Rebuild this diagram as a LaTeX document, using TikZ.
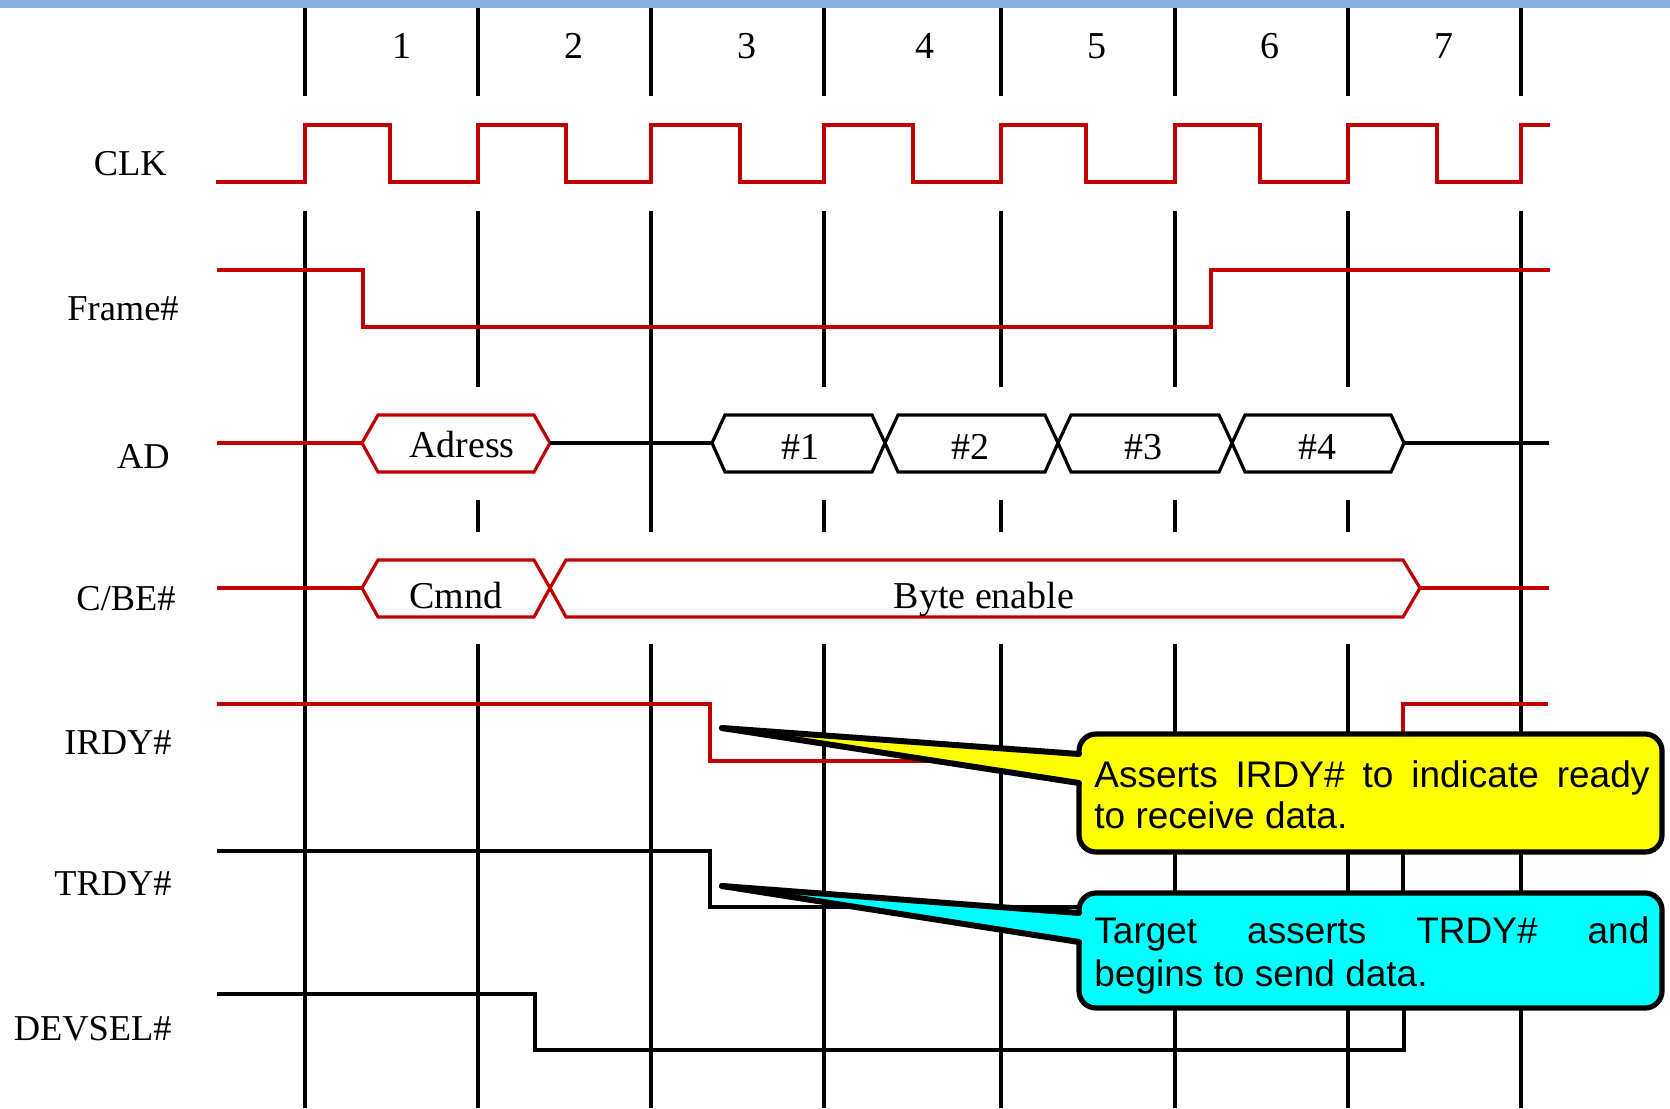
\documentclass[tikz,border=0pt]{standalone}
\usepackage{fontspec}
\setmainfont{Liberation Serif}
\newfontfamily\calfont{Liberation Sans}
\definecolor{sigred}{HTML}{C00000}
\definecolor{barblue}{HTML}{87B1DF}
\definecolor{calyellow}{HTML}{FFFF00}
\definecolor{calcyan}{HTML}{00FFFF}
\begin{document}
\begin{tikzpicture}[x=0.5pt,y=-0.5pt,
  gridline/.style={line width=1.6pt,black},
  gridthick/.style={line width=2.3pt,black},
  wave/.style={line width=1.6pt,line join=miter},
  redwave/.style={wave,draw=sigred},
  blkwave/.style={wave,draw=black},
  lbl/.style={font=\fontsize{19}{22}\selectfont,inner sep=0pt},
  sidelbl/.style={font=\fontsize{18.2}{22}\selectfont,inner sep=0pt,anchor=base east},
  calbox/.style={draw=black,line width=2.6pt,rounded corners=8.5pt,inner sep=0pt,minimum width=291.5pt},
  caltext/.style={font=\calfont\fontsize{18.5}{22}\selectfont,inner sep=0pt,anchor=base west},
  pointer/.style={line width=3pt,line cap=round,black}]
\useasboundingbox (0,0) rectangle (1670,1108);
\fill[barblue] (0,0) rectangle (1670,8);

% header dividers
\draw[gridthick] (305,8) -- (305,96);
\foreach \x in {478,651,824,1001,1175,1348} \draw[gridline] (\x,8) -- (\x,96);
\draw[gridthick] (1521,8) -- (1521,96);
\foreach \n/\x in {1/402,2/574,3/747,4/925,5/1097,6/1270,7/1444}
  \node[lbl,anchor=base] (num\n) at (\x,58) {\n};

% grid lines
\draw[gridline] (305,211) -- (305,1108);
\draw[gridline] (1521,211) -- (1521,1108);
\draw[gridline] (651,211) -- (651,532);
\draw[gridline] (651,644) -- (651,1108);
\foreach \x in {478,824,1001,1175,1348} {
  \draw[gridline] (\x,211) -- (\x,387);
  \draw[gridline] (\x,500) -- (\x,532);
  \draw[gridline] (\x,644) -- (\x,1108);
}

% labels
\node[sidelbl] (lclk) at (167,175) {CLK};
\node[sidelbl] (lframe) at (179,320) {Frame\#};
\node[sidelbl] (lad) at (170,468) {AD};
\node[sidelbl] (lcbe) at (176,610) {C/BE\#};
\node[sidelbl] (lirdy) at (172,754) {IRDY\#};
\node[sidelbl] (ltrdy) at (172,895) {TRDY\#};
\node[sidelbl] (ldevsel) at (172,1040) {DEVSEL\#};

% CLK
\draw[redwave] (216,182) -- (305,182) -- (305,125) -- (390,125) -- (390,182)
  -- (478,182) -- (478,125) -- (566,125) -- (566,182)
  -- (651,182) -- (651,125) -- (740,125) -- (740,182)
  -- (824,182) -- (824,125) -- (913,125) -- (913,182)
  -- (1001,182) -- (1001,125) -- (1086,125) -- (1086,182)
  -- (1175,182) -- (1175,125) -- (1260,125) -- (1260,182)
  -- (1348,182) -- (1348,125) -- (1437,125) -- (1437,182)
  -- (1521,182) -- (1521,125) -- (1550,125);

% Frame#
\draw[redwave] (217,270) -- (363,270) -- (363,327) -- (1211,327) -- (1211,270) -- (1550,270);

% AD
\draw[redwave] (217,443) -- (362,443);
\draw[redwave] (362,443) -- (378,415) -- (534,415) -- (550,443) -- (534,472) -- (378,472) -- cycle;
\draw[blkwave] (550,443) -- (712,443);
\foreach \a/\b in {712/885,885/1058,1058/1232,1232/1404}
  \draw[blkwave] (\a,443) -- (\a+13,415) -- (\b-13,415) -- (\b,443) -- (\b-13,472) -- (\a+13,472) -- cycle;
\draw[blkwave] (1404,443) -- (1549,443);
\node[lbl,anchor=base] (tadr) at (462,457) {Adress};
\node[lbl,anchor=base] (td1) at (800,459) {\#1};
\node[lbl,anchor=base] (td2) at (970,459) {\#2};
\node[lbl,anchor=base] (td3) at (1143,459) {\#3};
\node[lbl,anchor=base] (td4) at (1317,459) {\#4};

% C/BE#
\draw[redwave] (217,588) -- (362,588);
\draw[redwave] (362,588) -- (378,560) -- (534,560) -- (550,588) -- (534,617) -- (378,617) -- cycle;
\draw[redwave] (550,588) -- (566,560) -- (1403,560) -- (1420,588) -- (1403,617) -- (566,617) -- cycle;
\draw[redwave] (1420,588) -- (1549,588);
\node[lbl,anchor=base] (tcmnd) at (456,608) {Cmnd};
\node[lbl,anchor=base] (tbyte) at (984,608) {Byte enable};

% IRDY#, TRDY#, DEVSEL#
\draw[redwave] (217,704) -- (710,704) -- (710,761) -- (1403,761) -- (1403,704) -- (1548,704);
\draw[blkwave] (217,851) -- (710,851) -- (710,907) -- (1403,907) -- (1403,851) -- (1548,851);
\draw[blkwave] (217,994) -- (535,994) -- (535,1050) -- (1404,1050) -- (1404,994) -- (1548,994);

% callout 1
\node[calbox,fill=calyellow,minimum height=59pt] (cy) at (1370.5,793) {};
\coordinate (ytip) at (722,728);
\coordinate (yb1) at (1079,754);
\coordinate (yb2) at (1079,783);
\fill[calyellow] (ytip) -- (yb1) -- (1088,754) -- (1088,783) -- (yb2) -- cycle;
\draw[pointer] (ytip) -- (yb1);
\draw[pointer] (ytip) -- (yb2);
\node[caltext] (cy1) at (1094,787) {\makebox[277.5pt][s]{Asserts IRDY\# to indicate ready}};
\node[caltext] (cy2) at (1094,828) {to receive data.};

% callout 2
\node[calbox,fill=calcyan,minimum height=57.5pt] (cc) at (1370.5,950.5) {};
\coordinate (ctip) at (722,886);
\coordinate (cb1) at (1079,913);
\coordinate (cb2) at (1079,942);
\fill[calcyan] (ctip) -- (cb1) -- (1088,913) -- (1088,942) -- (cb2) -- cycle;
\draw[pointer] (ctip) -- (cb1);
\draw[pointer] (ctip) -- (cb2);
\node[caltext] (cc1) at (1094,943) {\makebox[277.5pt][s]{Target asserts TRDY\# and}};
\node[caltext] (cc2) at (1094,986) {begins to send data.};
\end{tikzpicture}
\end{document}
